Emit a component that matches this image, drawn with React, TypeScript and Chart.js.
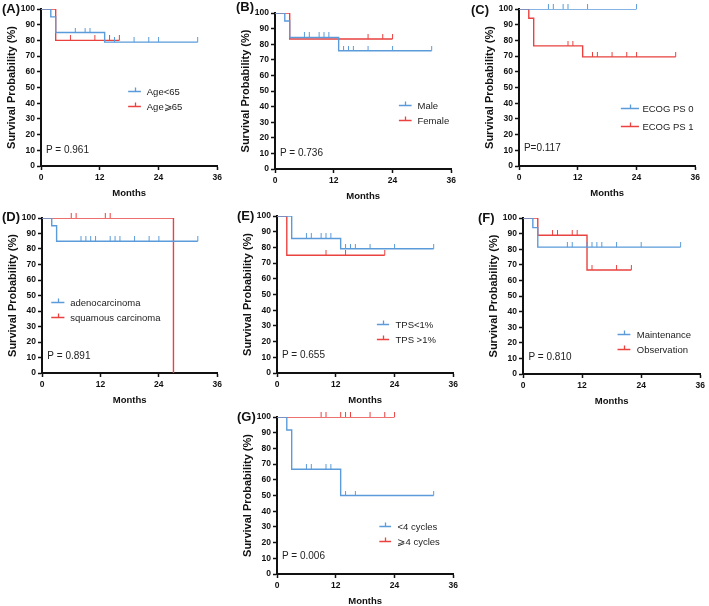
import React, { useEffect, useRef } from 'react';
import { Chart, registerables } from 'chart.js';

Chart.register(...registerables);

const FONT = "'Liberation Sans', Arial, Helvetica, sans-serif";
const BLUE = '#5B9BDA';
const RED = '#E9423F';

// ---------- axis ticks ----------
const monthTicks = [0, 12, 24, 36];
const survivalTicks = [0, 10, 20, 30, 40, 50, 60, 70, 80, 90, 100];

// ---------- Panel A: Age ----------
const aNames = ['Age<65', 'Age⩾65'];
const aBlueT = [0, 2, 3, 13, 32];
const aBlueS = [100, 95, 85, 78.9, 78.9];
const aBlueC = [7, 9, 10, 15, 19, 22, 24, 32];
const aRedT = [0, 3, 16];
const aRedS = [100, 80, 80];
const aRedC = [6, 11, 14, 16];
const aP = 'P = 0.961';

// ---------- Panel B: Sex ----------
const bNames = ['Male', 'Female'];
const bBlueT = [0, 2, 3, 13, 32];
const bBlueS = [100, 94.9, 84.3, 75.8, 75.8];
const bBlueC = [6, 7, 9, 10, 11, 14, 15, 16, 19, 24, 32];
const bRedT = [0, 3, 24];
const bRedS = [100, 83.3, 83.3];
const bRedC = [19, 22, 24];
const bP = 'P = 0.736';

// ---------- Panel C: ECOG PS ----------
const cNames = ['ECOG PS 0', 'ECOG PS 1'];
const cBlueT = [0, 24];
const cBlueS = [100, 100];
const cBlueC = [6, 7, 9, 10, 14, 24];
const cRedT = [0, 2, 3, 13, 32];
const cRedS = [100, 94.1, 76.5, 69.5, 69.5];
const cRedC = [10, 11, 15, 16, 19, 22, 24, 32];
const cP = 'P=0.117';

// ---------- Panel D: Histology ----------
const dNames = ['adenocarcinoma', 'squamous carcinoma'];
const dBlueT = [0, 2, 3, 32];
const dBlueS = [100, 95, 85, 85];
const dBlueC = [8, 9, 10, 11, 14, 15, 16, 19, 22, 24, 32];
const dRedT = [0, 27];
const dRedS = [100, 0];
const dRedC = [6, 7, 13, 14];
const dP = 'P = 0.891';

// ---------- Panel E: TPS ----------
const eNames = ['TPS<1%', 'TPS >1%'];
const eBlueT = [0, 3, 13, 32];
const eBlueS = [100, 85.7, 79.1, 79.1];
const eBlueC = [6, 7, 9, 10, 11, 14, 15, 16, 19, 24, 32];
const eRedT = [0, 2, 22];
const eRedS = [100, 75, 75];
const eRedC = [10, 14, 22];
const eP = 'P = 0.655';

// ---------- Panel F: Maintenance ----------
const fNames = ['Maintenance', 'Observation'];
const fBlueT = [0, 2, 3, 32];
const fBlueS = [100, 93.8, 81.3, 81.3];
const fBlueC = [9, 10, 13, 14, 15, 16, 19, 24, 32];
const fRedT = [0, 3, 13, 22];
const fRedS = [100, 88.9, 66.7, 66.7];
const fRedC = [6, 7, 10, 11, 14, 19, 22];
const fP = 'P = 0.810';

// ---------- Panel G: cycles ----------
const gNames = ['<4 cycles', '⩾4 cycles'];
const gBlueT = [0, 2, 3, 13, 32];
const gBlueS = [100, 91.7, 66.7, 50, 50];
const gBlueC = [6, 7, 10, 11, 14, 16, 32];
const gRedT = [0, 24];
const gRedS = [100, 100];
const gRedC = [9, 10, 13, 14, 15, 19, 22, 24];
const gP = 'P = 0.006';

// ---------- layout (positions only) ----------
type Area = { l: number; t: number; r: number; b: number };
type Layout = {
  label: string;
  labelX: number;
  labelY: number;
  area: Area;
  leg: { x0: number; x1: number; tx: number; y1: number; y2: number };
  p: { x: number; y: number };
};

const layouts: Layout[] = [
  { label: '(A)', labelX: 2, labelY: 9, area: { l: 41, t: 9, r: 219, b: 166 }, leg: { x0: 17.8, x1: 20.4, tx: 21.6, y1: 48, y2: 38 }, p: { x: 1, y: 10 } },
  { label: '(B)', labelX: 236, labelY: 7, area: { l: 275, t: 13, r: 453, b: 169 }, leg: { x0: 25.3, x1: 27.9, tx: 29.1, y1: 41, y2: 31.3 }, p: { x: 1, y: 10.4 } },
  { label: '(C)', labelX: 471, labelY: 10, area: { l: 519, t: 9, r: 697, b: 166 }, leg: { x0: 20.8, x1: 24.5, tx: 25.2, y1: 36.7, y2: 25.6 }, p: { x: 1, y: 11 } },
  { label: '(D)', labelX: 2, labelY: 217, area: { l: 42, t: 218, r: 219, b: 373 }, leg: { x0: 1.9, x1: 4.6, tx: 5.8, y1: 46, y2: 36 }, p: { x: 1.1, y: 10.6 } },
  { label: '(E)', labelX: 237, labelY: 216, area: { l: 277, t: 216, r: 455, b: 373 }, leg: { x0: 20.4, x1: 22.9, tx: 24.2, y1: 31, y2: 21.6 }, p: { x: 1, y: 11 } },
  { label: '(F)', labelX: 478, labelY: 218, area: { l: 523, t: 218, r: 702, b: 374 }, leg: { x0: 19.2, x1: 21.8, tx: 23.1, y1: 25.7, y2: 15.8 }, p: { x: 1.1, y: 11 } },
  { label: '(G)', labelX: 237, labelY: 417, area: { l: 277, t: 417, r: 455, b: 574 }, leg: { x0: 20.9, x1: 23.3, tx: 24.6, y1: 30.6, y2: 21 }, p: { x: 1, y: 11 } },
];

type Series = { T: number[]; S: number[]; C: number[] };
type PanelData = { names: string[]; blue: Series; red: Series; p: string };

const panels: PanelData[] = [
  { names: aNames, blue: { T: aBlueT, S: aBlueS, C: aBlueC }, red: { T: aRedT, S: aRedS, C: aRedC }, p: aP },
  { names: bNames, blue: { T: bBlueT, S: bBlueS, C: bBlueC }, red: { T: bRedT, S: bRedS, C: bRedC }, p: bP },
  { names: cNames, blue: { T: cBlueT, S: cBlueS, C: cBlueC }, red: { T: cRedT, S: cRedS, C: cRedC }, p: cP },
  { names: dNames, blue: { T: dBlueT, S: dBlueS, C: dBlueC }, red: { T: dRedT, S: dRedS, C: dRedC }, p: dP },
  { names: eNames, blue: { T: eBlueT, S: eBlueS, C: eBlueC }, red: { T: eRedT, S: eRedS, C: eRedC }, p: eP },
  { names: fNames, blue: { T: fBlueT, S: fBlueS, C: fBlueC }, red: { T: fRedT, S: fRedS, C: fRedC }, p: fP },
  { names: gNames, blue: { T: gBlueT, S: gBlueS, C: gBlueC }, red: { T: gRedT, S: gRedS, C: gRedC }, p: gP },
];

const Y_AXIS_W = 40;
const X_AXIS_H = 37;
const PAD_TOP = 8;
const PAD_RIGHT = 6;

function survAt(T: number[], S: number[], t: number) {
  let v = S[0];
  for (let i = 0; i < T.length; i++) if (T[i] <= t) v = S[i];
  return v;
}

function makeTick(color: string) {
  const c = document.createElement('canvas');
  c.width = 3;
  c.height = 10;
  const g = c.getContext('2d')!;
  g.fillStyle = color;
  g.fillRect(1, 0, 1, 5);
  return c;
}

const kmExtras = {
  id: 'kmExtras',
  afterDatasetsDraw(chart: any, _args: any, opts: any) {
    const { ctx } = chart;
    const x = chart.scales.x;
    const y = chart.scales.y;
    const leg = opts.leg;
    ctx.save();
    const rows = [
      { name: opts.names[0], color: BLUE, yv: leg.y1 },
      { name: opts.names[1], color: RED, yv: leg.y2 },
    ];
    ctx.font = `9.5px ${FONT}`;
    ctx.textBaseline = 'middle';
    ctx.textAlign = 'left';
    rows.forEach((r) => {
      const py = Math.round(y.getPixelForValue(r.yv)) + 0.5;
      const x0 = x.getPixelForValue(leg.x0);
      const x1 = x.getPixelForValue(leg.x1);
      const xm = Math.round((x0 + x1) / 2) + 0.5;
      ctx.strokeStyle = r.color;
      ctx.lineWidth = 1.3;
      ctx.beginPath();
      ctx.moveTo(x0, py);
      ctx.lineTo(x1, py);
      ctx.moveTo(xm, py);
      ctx.lineTo(xm, py - 4);
      ctx.stroke();
      ctx.fillStyle = '#222';
      ctx.fillText(r.name, x.getPixelForValue(leg.tx), py + 0.5);
    });
    ctx.font = `10px ${FONT}`;
    ctx.fillStyle = '#222';
    ctx.fillText(opts.p, x.getPixelForValue(opts.px), y.getPixelForValue(opts.py));
    ctx.restore();
  },
};

function Panel({ data, lay }: { data: PanelData; lay: Layout }) {
  const ref = useRef<HTMLCanvasElement>(null);
  const left = lay.area.l - Y_AXIS_W;
  const top = lay.area.t - PAD_TOP;
  const width = lay.area.r + PAD_RIGHT - left;
  const height = lay.area.b + X_AXIS_H - top;

  useEffect(() => {
    const blueTick = makeTick(BLUE);
    const redTick = makeTick(RED);
    const curve = (s: Series, color: string) => ({
      data: s.T.map((t, i) => ({ x: t, y: s.S[i] })),
      borderColor: color,
      backgroundColor: color,
      borderWidth: 1.4,
      stepped: 'before',
      pointRadius: 0,
      fill: false,
    });
    const cens = (s: Series, img: HTMLCanvasElement) => ({
      data: s.C.map((t) => ({ x: t, y: survAt(s.T, s.S, t) })),
      showLine: false,
      pointStyle: img,
      pointRadius: 3,
      clip: false,
    });
    const tickFont = { family: FONT, size: 8.5, weight: 'bold' as const };
    const chart = new Chart(ref.current!, {
      type: 'line',
      data: {
        datasets: [
          curve(data.blue, BLUE),
          cens(data.blue, blueTick),
          curve(data.red, RED),
          cens(data.red, redTick),
        ] as any,
      },
      options: {
        responsive: false,
        animation: false,
        events: [],
        layout: { padding: { left: 0, top: PAD_TOP, right: PAD_RIGHT, bottom: 0 } },
        plugins: {
          legend: { display: false },
          tooltip: { enabled: false },
          kmExtras: { names: data.names, leg: lay.leg, p: data.p, px: lay.p.x, py: lay.p.y },
        } as any,
        scales: {
          x: {
            type: 'linear',
            min: monthTicks[0],
            max: monthTicks[monthTicks.length - 1],
            afterBuildTicks: (s: any) => {
              s.ticks = monthTicks.map((v) => ({ value: v }));
            },
            afterFit: (s: any) => {
              s.height = X_AXIS_H;
            },
            ticks: { color: '#111', font: tickFont, padding: 3, maxRotation: 0, autoSkip: false },
            grid: { display: true, drawOnChartArea: false, drawTicks: true, tickLength: 4, tickColor: '#111', tickWidth: 1.5 },
            border: { display: true, color: '#111', width: 2 },
            title: { display: true, text: 'Months', color: '#111', font: { family: FONT, size: 9.5, weight: 'bold' }, padding: { top: 4, bottom: 4 } },
          },
          y: {
            type: 'linear',
            min: survivalTicks[0],
            max: survivalTicks[survivalTicks.length - 1],
            afterBuildTicks: (s: any) => {
              s.ticks = survivalTicks.map((v) => ({ value: v }));
            },
            afterFit: (s: any) => {
              s.width = Y_AXIS_W;
            },
            ticks: { color: '#111', font: tickFont, padding: 2, autoSkip: false },
            grid: { display: true, drawOnChartArea: false, drawTicks: true, tickLength: 4, tickColor: '#111', tickWidth: 1.5 },
            border: { display: true, color: '#111', width: 2 },
            title: { display: true, text: 'Survival Probability (%)', color: '#111', font: { family: FONT, size: 11, weight: 'bold' }, padding: { top: 4, bottom: 4 } },
          },
        },
      } as any,
      plugins: [kmExtras as any],
    });
    return () => chart.destroy();
  }, []);

  return (
    <>
      <canvas
        ref={ref}
        width={width}
        height={height}
        style={{ position: 'absolute', left, top, width, height, display: 'block' }}
      />
      <div
        style={{
          position: 'absolute',
          left: lay.labelX,
          top: lay.labelY - 8,
          height: 16,
          lineHeight: '16px',
          fontFamily: FONT,
          fontWeight: 'bold',
          fontSize: 13,
          color: '#111',
          whiteSpace: 'nowrap',
        }}
      >
        {lay.label}
      </div>
    </>
  );
}

export default function App() {
  return (
    <div style={{ position: 'absolute', left: 0, top: 0, width: 709, height: 606, background: '#fff', overflow: 'hidden' }}>
      {panels.map((d, i) => (
        <Panel key={i} data={d} lay={layouts[i]} />
      ))}
    </div>
  );
}
